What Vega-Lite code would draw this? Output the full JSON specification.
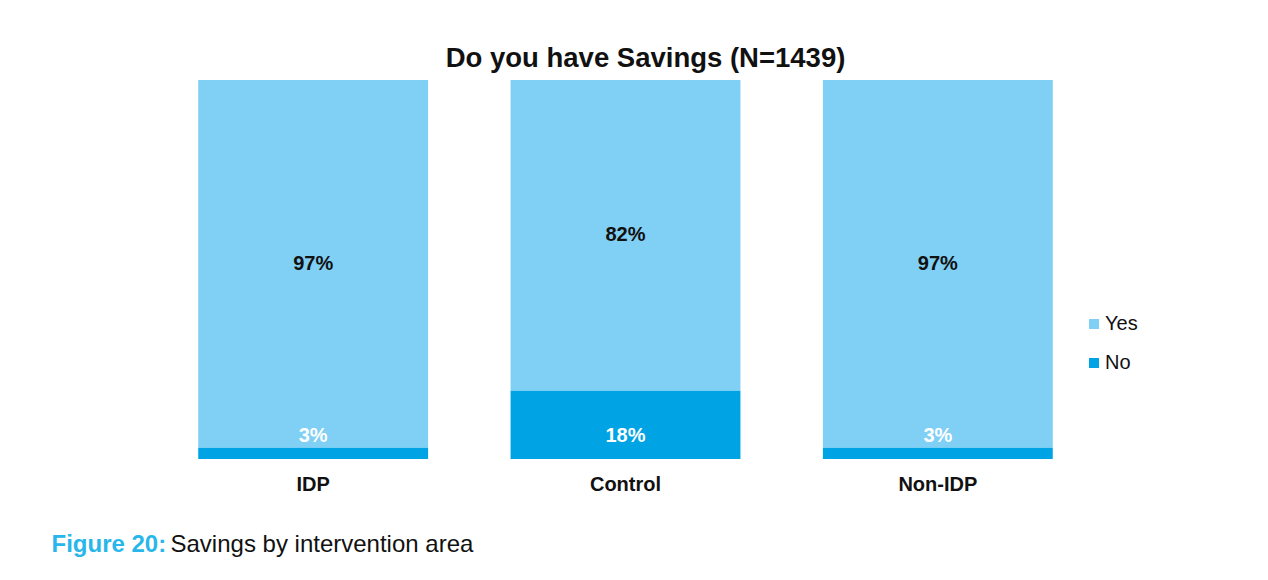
{
  "$schema": "https://vega.github.io/schema/vega-lite/v6.json",
  "width": 937,
  "height": 379,
  "autosize": {"type": "none"},
  "padding": {"left": 157, "top": 80, "right": 174, "bottom": 121},
  "background": "white",
  "config": {"view": {"stroke": null}, "font": "Liberation Sans"},
  "title": {
    "text": "Do you have Savings (N=1439)",
    "font": "Liberation Sans",
    "fontSize": 27.5,
    "fontWeight": "bold",
    "color": "#111111",
    "anchor": "middle",
    "dx": 20,
    "offset": 8
  },
  "data": {
    "values": [
      {"area": "IDP", "response": "Yes", "pct": 0.97},
      {"area": "IDP", "response": "No", "pct": 0.03},
      {"area": "Control", "response": "Yes", "pct": 0.82},
      {"area": "Control", "response": "No", "pct": 0.18},
      {"area": "Non-IDP", "response": "Yes", "pct": 0.97},
      {"area": "Non-IDP", "response": "No", "pct": 0.03}
    ]
  },
  "encoding": {
    "x": {
      "field": "area",
      "type": "nominal",
      "sort": ["IDP", "Control", "Non-IDP"],
      "scale": {"paddingInner": 0.264, "paddingOuter": 0.132},
      "axis": {
        "title": "Savings by intervention area",
        "titleFont": "Liberation Sans",
        "titleFontSize": 24,
        "titleFontWeight": "normal",
        "titleColor": "#111111",
        "titleAlign": "left",
        "titleBaseline": "alphabetic",
        "titleAnchor": "start",
        "titleX": 13,
        "titleY": 92,
        "labelAngle": 0,
        "labelFont": "Liberation Sans",
        "labelFontSize": 20,
        "labelFontWeight": "bold",
        "labelColor": "#111111",
        "labelPadding": 15,
        "ticks": false,
        "domain": false,
        "grid": false
      }
    }
  },
  "layer": [
    {
      "layer": [
        {
          "mark": {"type": "bar"},
          "encoding": {
            "y": {
              "field": "pct",
              "type": "quantitative",
              "stack": "zero",
              "scale": {"domain": [0, 1]},
              "axis": {
                "title": "Figure 20:",
                "labels": false,
                "ticks": false,
                "domain": false,
                "grid": false,
                "titleAngle": 0,
                "titleAlign": "left",
                "titleBaseline": "alphabetic",
                "titleX": -106,
                "titleY": 471,
                "titleFont": "Liberation Sans",
                "titleFontSize": 24,
                "titleFontWeight": "bold",
                "titleColor": "#29b6ea"
              }
            },
            "color": {
              "field": "response",
              "type": "nominal",
              "scale": {"domain": ["Yes", "No"], "range": ["#80cff4", "#00a3e4"]},
              "legend": {
                "title": null,
                "orient": "none",
                "legendX": 927,
                "legendY": 234,
                "symbolType": "square",
                "symbolSize": 100,
                "symbolStrokeWidth": 0,
                "labelFont": "Liberation Sans",
                "labelFontSize": 20,
                "labelColor": "#111111",
                "labelOffset": 1,
                "rowPadding": 19
              }
            },
            "order": {"field": "response", "sort": "ascending"}
          }
        },
        {
          "transform": [{"filter": "datum.response == 'No'"}],
          "mark": {
            "type": "text",
            "baseline": "middle",
            "dy": -23,
            "color": "white",
            "font": "Liberation Sans",
            "fontSize": 20,
            "fontWeight": "bold"
          },
          "encoding": {
            "y": {"datum": 0, "type": "quantitative"},
            "text": {"field": "pct", "type": "quantitative", "format": ".0%"}
          }
        }
      ]
    },
    {
      "transform": [{"filter": "datum.response == 'Yes'"}],
      "mark": {
        "type": "text",
        "baseline": "middle",
        "color": "#111111",
        "font": "Liberation Sans",
        "fontSize": 20,
        "fontWeight": "bold"
      },
      "encoding": {
        "y": {
          "field": "pct",
          "type": "quantitative",
          "scale": {"domain": [0, 2], "reverse": true},
          "axis": null
        },
        "text": {"field": "pct", "type": "quantitative", "format": ".0%"}
      }
    }
  ],
  "resolve": {"scale": {"y": "independent"}}
}
